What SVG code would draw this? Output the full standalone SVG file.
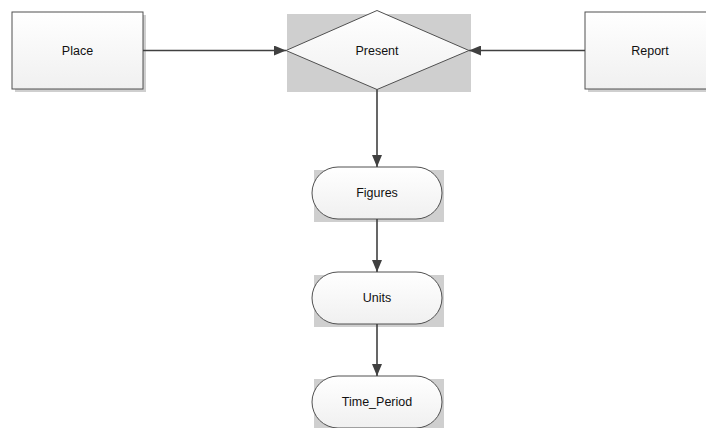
<svg xmlns="http://www.w3.org/2000/svg" width="706" height="428" viewBox="0 0 706 428">
  <defs>
    <linearGradient id="fillGrad" x1="0" y1="0" x2="0" y2="1">
      <stop offset="0" stop-color="#ffffff"/>
      <stop offset="1" stop-color="#f0f0f0"/>
    </linearGradient>
    <marker id="arrow" viewBox="0 0 12 10" refX="12" refY="5" markerWidth="12" markerHeight="10" markerUnits="userSpaceOnUse" orient="auto">
      <path d="M0,0 L12,5 L0,10 Z" fill="#404040"/>
    </marker>
    <style>
      .shadow { fill: #cfcfcf; }
      .shape { fill: url(#fillGrad); stroke: #505050; stroke-width: 1; }
      .label { font-family: "Liberation Sans", Arial, sans-serif; font-size: 12.5px; fill: #111111; text-anchor: middle; dominant-baseline: central; }
      .conn { fill: none; stroke: #404040; stroke-width: 1.6; marker-end: url(#arrow); }
    </style>
  </defs>

  <rect width="706" height="428" fill="#ffffff"/>

  <g id="place">
    <rect class="shadow" x="15" y="15" width="131" height="77"/>
    <rect class="shape" x="12" y="12" width="131" height="77"/>
    <text class="label" x="77.5" y="50.5">Place</text>
  </g>

  <g id="present">
    <rect class="shadow" x="287" y="14" width="184" height="78"/>
    <polygon class="shape" points="286,50.5 377,10.5 469,50.5 377,89.5"/>
    <text class="label" x="377" y="50.5">Present</text>
  </g>

  <g id="report">
    <rect class="shadow" x="588" y="15" width="131" height="77"/>
    <rect class="shape" x="585" y="12" width="131" height="77"/>
    <text class="label" x="650" y="50.5">Report</text>
  </g>

  <g id="figures">
    <rect class="shadow" x="314" y="170" width="130" height="52"/>
    <rect class="shape" x="312" y="167" width="130" height="52" rx="26" ry="26"/>
    <text class="label" x="377" y="193">Figures</text>
  </g>

  <g id="units">
    <rect class="shadow" x="314" y="275" width="130" height="52"/>
    <rect class="shape" x="312" y="272" width="130" height="52" rx="26" ry="26"/>
    <text class="label" x="377" y="298">Units</text>
  </g>

  <g id="time_period">
    <rect class="shadow" x="314" y="379" width="130" height="52"/>
    <rect class="shape" x="312" y="376" width="130" height="52" rx="26" ry="26"/>
    <text class="label" x="377" y="402">Time_Period</text>
  </g>

  <g id="connectors">
    <line class="conn" x1="143" y1="50.5" x2="286" y2="50.5"/>
    <line class="conn" x1="585" y1="50.5" x2="469" y2="50.5"/>
    <line class="conn" x1="377" y1="89.5" x2="377" y2="167"/>
    <line class="conn" x1="377" y1="219" x2="377" y2="272"/>
    <line class="conn" x1="377" y1="324" x2="377" y2="376"/>
  </g>
</svg>
